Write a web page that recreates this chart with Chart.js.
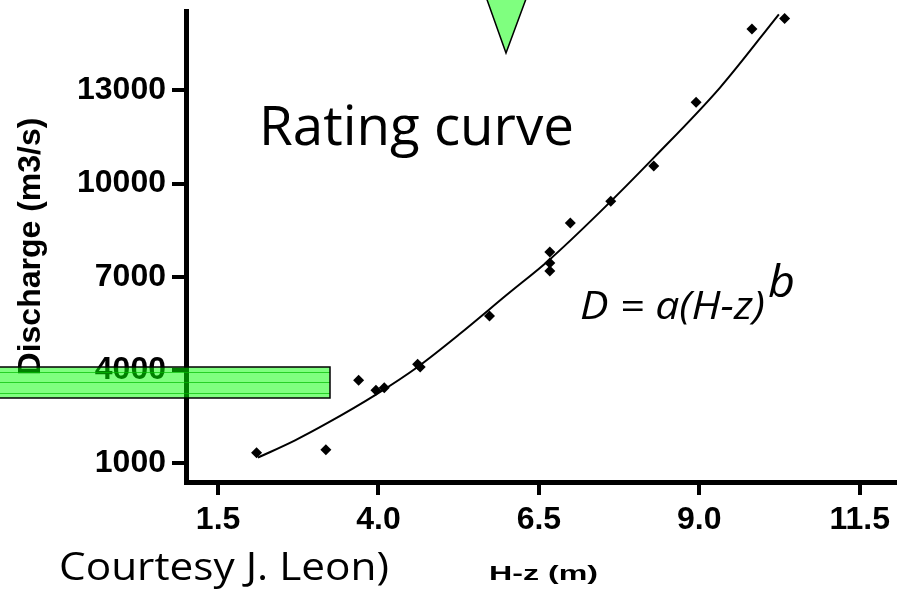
<!DOCTYPE html>
<html>
<head>
<meta charset="utf-8">
<script src="https://cdn.jsdelivr.net/npm/chart.js@4"></script>
<style>
  html, body { margin: 0; padding: 0; background: #fff; }
</style>
</head>
<body>
<canvas id="chartCanvas" width="910" height="593"></canvas>
<script>
// --- measured points: H-z (m) vs discharge (m3/s) ---
const hz = [2.10, 3.18, 3.69, 3.96, 4.09, 4.61, 4.65, 5.73, 6.67, 6.67, 6.67, 6.99, 7.62, 8.29, 8.95, 9.82, 10.33];
const discharge = [1344, 1441, 3670, 3349, 3435, 4185, 4098, 5739, 7798, 7444, 7187, 8731, 9429, 10565, 12614, 14972, 15307];

// fitted rating curve
const curveHz = [2.12, 2.7, 3.2, 3.96, 4.61, 5.26, 6.0, 6.67, 7.45, 8.3, 9.32, 10.24];
const curveQ = [1183, 1740, 2290, 3210, 4100, 5150, 6420, 7560, 9080, 10850, 13080, 15445];

// axis ticks
const xTicks = [1.5, 4.0, 6.5, 9.0, 11.5];
const yTicks = [1000, 4000, 7000, 10000, 13000];

// narrow bold digits if the narrow face is there
function hasFont(name) {
  const c = document.createElement("canvas").getContext("2d");
  c.font = "40px monospace";
  const a = c.measureText("13000 abc").width;
  c.font = '40px "' + name + '", monospace';
  return c.measureText("13000 abc").width !== a;
}
const narrow = hasFont("Liberation Sans Narrow");
const tickFont = narrow
  ? { family: '"Liberation Sans Narrow"', weight: "bold", size: 37 }
  : { family: '"Liberation Sans", Arial, sans-serif', weight: "bold", size: 32 };

// draw text squeezed/stretched to a given width
function fitText(ctx, text, x, y, w, font) {
  ctx.font = font;
  const nat = ctx.measureText(text).width;
  ctx.save();
  ctx.translate(x, y);
  ctx.scale(w / nat, 1);
  ctx.fillText(text, 0, 0);
  ctx.restore();
}

const overlay = {
  id: "overlay",
  afterDraw(chart) {
    const ctx = chart.ctx;
    ctx.save();
    ctx.fillStyle = "#000";
    ctx.textBaseline = "alphabetic";
    ctx.textAlign = "left";

    fitText(ctx, "Rating curve", 259, 145, 315, '55px "Open Sans"');
    fitText(ctx, "D = a(H-z)", 580, 319, 185, 'italic 38px "Open Sans"');
    fitText(ctx, "b", 768, 297, 27, 'italic 44px "Open Sans"');
    fitText(ctx, "Courtesy J. Leon)", 59, 580, 330, '39px "Open Sans"');
    fitText(ctx, "H-z (m)", 489, 580, 109, 'bold 20px "Liberation Sans", Arial');

    // green band over the 4000 label
    ctx.fillStyle = "rgba(0,255,0,0.5)";
    ctx.fillRect(0, 367, 330, 31);
    ctx.strokeStyle = "rgba(0,190,0,0.7)";
    ctx.lineWidth = 1;
    [372, 382, 393].forEach(y => {
      ctx.beginPath();
      ctx.moveTo(0, y + 0.5);
      ctx.lineTo(330, y + 0.5);
      ctx.stroke();
    });
    ctx.strokeStyle = "#000";
    ctx.lineWidth = 1.5;
    ctx.strokeRect(-2, 367, 332, 31);

    // green pointer at the top
    ctx.beginPath();
    ctx.moveTo(480, -20);
    ctx.lineTo(533, -20);
    ctx.lineTo(506, 53);
    ctx.closePath();
    ctx.fillStyle = "rgba(0,255,0,0.5)";
    ctx.fill();
    ctx.strokeStyle = "#000";
    ctx.lineWidth = 1.5;
    ctx.stroke();
    ctx.restore();
  }
};

const ctx = document.getElementById("chartCanvas").getContext("2d");
new Chart(ctx, {
  type: "scatter",
  data: {
    datasets: [
      {
        label: "fit",
        data: curveHz.map((x, i) => ({ x, y: curveQ[i] })),
        showLine: true,
        borderColor: "#000",
        borderWidth: 2,
        pointRadius: 0,
        cubicInterpolationMode: "monotone",
        fill: false
      },
      {
        label: "observed",
        data: hz.map((x, i) => ({ x, y: discharge[i] })),
        pointStyle: "rectRot",
        pointRadius: 5.5,
        backgroundColor: "#000",
        borderColor: "#000",
        borderWidth: 0
      }
    ]
  },
  options: {
    responsive: false,
    animation: false,
    devicePixelRatio: 1,
    layout: { padding: { top: 11, right: 15, left: 0, bottom: 0 } },
    plugins: {
      legend: { display: false },
      tooltip: { enabled: false }
    },
    scales: {
      x: {
        type: "linear",
        min: 1,
        max: 12.05,
        afterBuildTicks: s => { s.ticks = xTicks.map(v => ({ value: v })); },
        afterFit: s => { s.height = 111; s.paddingLeft = 0; s.paddingRight = 0; },
        ticks: {
          callback: v => Number(v).toFixed(1),
          font: tickFont,
          color: "#000",
          padding: 6,
          maxRotation: 0
        },
        grid: { display: true, drawOnChartArea: false, drawTicks: true, tickLength: 13, lineWidth: 4, color: "#000" },
        border: { display: true, color: "#000", width: 5 }
      },
      y: {
        min: 400,
        max: 15550,
        afterBuildTicks: s => { s.ticks = yTicks.map(v => ({ value: v })); },
        afterFit: s => { s.width = 186; s.paddingTop = 0; s.paddingBottom = 0; },
        ticks: {
          callback: v => String(v),
          font: tickFont,
          color: "#000",
          padding: 6
        },
        title: {
          display: true,
          text: "Discharge (m3/s)",
          color: "#000",
          font: { family: '"Liberation Sans", Arial, sans-serif', weight: "bold", size: 32 },
          padding: { top: 12, bottom: 0 }
        },
        grid: { display: true, drawOnChartArea: false, drawTicks: true, tickLength: 14, lineWidth: 4, color: "#000" },
        border: { display: true, color: "#000", width: 5 }
      }
    }
  },
  plugins: [overlay]
});
</script>
</body>
</html>
